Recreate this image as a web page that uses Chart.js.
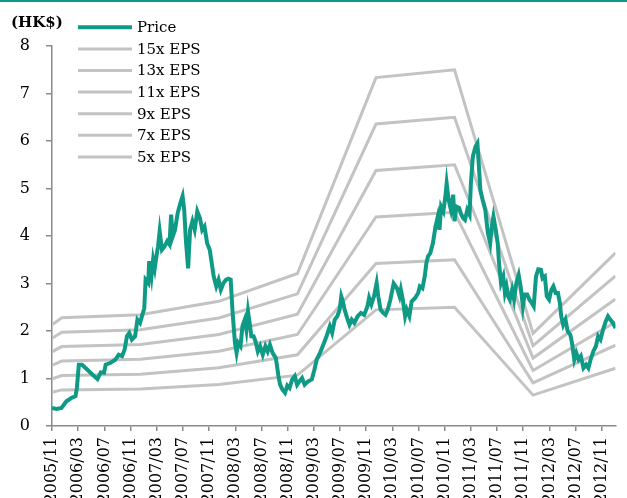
<!DOCTYPE html>
<html>
<head>
<meta charset="utf-8">
<script src="https://cdn.jsdelivr.net/npm/chart.js@4.4.0/dist/chart.umd.min.js"></script>
<style>
  body { margin: 0; background: #fff; overflow: hidden; }
  #wrap { width: 627px; height: 498px; position: relative; }
</style>
</head>
<body>
<div id="wrap"><canvas id="peChart"></canvas></div>
<script>
// months counted from 2005/11 (0 = 2005/11)
const xTickLabels = [
    "2005/11", "2006/03", "2006/07", "2006/11", "2007/03", "2007/07", "2007/11",
    "2008/03", "2008/07", "2008/11", "2009/03", "2009/07", "2009/11", "2010/03",
    "2010/07", "2010/11", "2011/03", "2011/07", "2011/11", "2012/03", "2012/07", "2012/11"
];

const priceMonths = [
    0, 0.7, 1.45, 2.2, 2.95, 3.6, 3.8, 4.1, 4.6, 5.45, 6.2, 6.95, 7.45, 7.95, 8.2, 8.95,
    9.7, 10.2, 10.7, 11.1, 11.45, 11.8, 12.2, 12.7, 13.05, 13.45, 13.8, 14.1, 14.3, 14.7,
    14.85, 15.2, 15.45, 15.7, 15.95, 16.2, 16.45, 16.8, 17.2, 17.6, 17.95, 18.2, 18.45,
    18.8, 19.2, 19.6, 19.95, 20.2, 20.45, 20.8, 21.1, 21.45, 21.8, 22.2, 22.6, 22.95,
    23.3, 23.7, 24.1, 24.3, 24.7, 25.1, 25.45, 25.8, 26.2, 26.6, 26.95, 27.3, 27.6,
    27.95, 28.2, 28.45, 28.8, 29.1, 29.45, 29.7, 29.95, 30.2, 30.45, 30.8, 31.1, 31.45,
    31.8, 32.2, 32.6, 32.95, 33.3, 33.7, 34.2, 34.6, 34.85, 35.2, 35.6, 35.95, 36.3,
    36.7, 37.1, 37.45, 37.8, 38.2, 38.6, 39.1, 39.7, 40.1, 40.45, 40.95, 41.45, 41.95,
    42.45, 42.8, 43.2, 43.6, 43.95, 44.2, 44.45, 44.7, 45.1, 45.45, 45.8, 46.2, 46.7,
    47.2, 47.7, 48.2, 48.45, 48.8, 49.2, 49.6, 49.85, 50.2, 50.6, 50.95, 51.3, 51.7,
    52.2, 52.7, 53.1, 53.3, 53.6, 53.95, 54.2, 54.6, 54.95, 55.45, 55.95, 56.2, 56.6,
    56.95, 57.2, 57.45, 57.8, 58.2, 58.6, 58.95, 59.2, 59.45, 59.8, 60.1, 60.3, 60.6,
    60.95, 61.3, 61.5, 61.8, 62.2, 62.45, 62.8, 63.1, 63.45, 63.8, 64.0, 64.3, 64.7,
    65.0, 65.2, 65.45, 65.8, 66.2, 66.6, 66.95, 67.2, 67.45, 67.8, 68.1, 68.3, 68.6,
    68.95, 69.2, 69.45, 69.7, 69.95, 70.3, 70.6, 70.95, 71.3, 71.6, 71.95, 72.2, 72.6,
    72.95, 73.3, 73.6, 73.95, 74.3, 74.7, 74.95, 75.3, 75.6, 75.95, 76.3, 76.6, 76.95,
    77.3, 77.6, 77.8, 78.1, 78.45, 78.8, 79.2, 79.45, 79.8, 80.1, 80.45, 80.8, 81.2,
    81.6, 81.95, 82.3, 82.7, 83.1, 83.45, 83.8, 84.2, 84.6, 84.95, 85.3, 85.7, 86.1
];
const priceValues = [
    0.38, 0.36, 0.38, 0.52, 0.59, 0.63, 0.80, 1.29, 1.29, 1.18, 1.08, 0.99, 1.13, 1.12, 1.29, 1.33,
    1.40, 1.50, 1.47, 1.61, 1.89, 1.96, 1.82, 1.89, 2.24, 2.17, 2.34, 2.48, 3.08, 3.01,
    3.47, 3.15, 3.50, 3.32, 3.57, 3.78, 4.10, 3.71, 3.78, 3.89, 3.82, 4.45, 3.99,
    4.13, 4.48, 4.69, 4.84, 4.55, 3.92, 3.32, 4.13, 4.31, 4.13, 4.52, 4.38, 4.13,
    4.20, 3.85, 3.71, 3.53, 3.15, 2.94, 3.08, 2.87, 3.01, 3.08, 3.10, 3.08, 2.38,
    1.75, 1.54, 1.75, 1.68, 2.10, 2.24, 2.03, 2.41, 2.17, 1.89, 1.89, 1.78, 1.57,
    1.68, 1.50, 1.68, 1.57, 1.71, 1.54, 1.43, 1.05, 0.87, 0.77, 0.70, 0.85, 0.80,
    0.98, 1.05, 0.87, 0.94, 1.01, 0.87, 0.94, 0.98, 1.19, 1.40, 1.54, 1.71, 1.89,
    2.10, 1.96, 2.24, 2.31, 2.45, 2.73, 2.62, 2.45, 2.27, 2.13, 2.24, 2.17, 2.31,
    2.38, 2.34, 2.52, 2.70, 2.56, 2.73, 3.01, 2.73, 2.45, 2.38, 2.34, 2.45, 2.66,
    3.00, 2.90, 2.73, 2.87, 2.66, 2.31, 2.45, 2.31, 2.62, 2.69, 2.80, 2.94, 2.90,
    3.15, 3.43, 3.57, 3.64, 3.85, 4.20, 4.41, 4.13, 4.62, 4.52, 4.83, 5.11, 4.76,
    4.55, 4.87, 4.31, 4.62, 4.59, 4.48, 4.38, 4.34, 4.55, 4.45, 5.11, 5.67, 5.88,
    5.95, 5.53, 4.97, 4.76, 4.55, 4.06, 3.85, 4.20, 4.41, 4.13, 3.85, 3.43, 3.01,
    3.15, 2.80, 2.94, 2.73, 2.66, 2.87, 2.66, 3.01, 3.18, 2.94, 2.52, 2.77, 2.77,
    2.66, 2.59, 2.52, 3.15, 3.30, 3.29, 3.11, 3.15, 2.73, 2.66, 2.87, 2.94, 2.80,
    2.80, 2.59, 2.31, 2.13, 2.24, 1.99, 1.92, 1.75, 1.40, 1.54, 1.40, 1.47, 1.22,
    1.29, 1.22, 1.40, 1.57, 1.68, 1.89, 1.82, 2.03, 2.20, 2.31, 2.24, 2.17, 2.06
];

// EPS used for the PE bands
const epsMonths = [0, 1.5, 13.5, 25.5, 37.5, 49.5, 61.5, 73.5, 86.1];
const epsValues = [0.142, 0.152, 0.156, 0.175, 0.214, 0.489, 0.500, 0.130, 0.243];
const multiples = [15, 13, 11, 9, 7, 5];

const teal = "#0f9a86";
const grey = "#c3c3c3";
const axisGrey = "#8a8a8a";

const datasets = [
    {
        label: "Price",
        data: priceMonths.map((m, i) => ({ x: m, y: priceValues[i] })),
        borderColor: teal,
        backgroundColor: teal,
        borderWidth: 4,
        pointRadius: 0,
        tension: 0,
    },
];
multiples.forEach((k) => {
    datasets.push({
        label: k + "x EPS",
        data: epsMonths.map((m, i) => ({ x: m, y: epsValues[i] * k })),
        borderColor: grey,
        backgroundColor: grey,
        borderWidth: 3,
        pointRadius: 0,
        tension: 0,
    });
});

// legend + unit label + top rule, drawn by hand
const extras = {
    id: "extras",
    afterDraw(chart) {
        const ctx = chart.ctx;
        ctx.save();
        ctx.fillStyle = teal;
        ctx.fillRect(0, 0, chart.width, 2);

        ctx.fillStyle = "#000";
        ctx.font = "bold 15px 'DejaVu Serif'";
        ctx.textBaseline = "middle";
        ctx.textAlign = "left";
        ctx.fillText("(HK$)", 11, 23);

        ctx.font = "15px 'DejaVu Serif'";
        chart.data.datasets.forEach((ds, i) => {
            const y = 27.3 + i * 21.6;
            ctx.strokeStyle = ds.borderColor;
            ctx.lineWidth = ds.borderWidth;
            ctx.beginPath();
            ctx.moveTo(78, y);
            ctx.lineTo(132, y);
            ctx.stroke();
            ctx.fillStyle = "#000";
            ctx.fillText(ds.label, 137, y + 1);
        });
        ctx.restore();
    },
};

const config = {
    type: "line",
    data: { datasets: datasets },
    options: {
        responsive: true,
        maintainAspectRatio: false,
        animation: false,
        layout: { padding: { top: 46, right: 1, left: 0, bottom: 0 } },
        scales: {
            x: {
                type: "linear",
                min: 0,
                max: 86.1,
                afterFit: (scale) => { scale.height = 72; },
                border: { color: axisGrey, width: 1.5 },
                grid: { drawOnChartArea: false, drawTicks: true, tickLength: 5, color: axisGrey, lineWidth: 1.5 },
                ticks: {
                    stepSize: 4,
                    includeBounds: false,
                    autoSkip: false,
                    minRotation: 90,
                    maxRotation: 90,
                    padding: 6,
                    color: "#000",
                    font: { family: "'DejaVu Serif'", size: 16 },
                    callback: (value) => xTickLabels[value / 4],
                },
            },
            y: {
                min: 0,
                max: 8,
                afterFit: (scale) => { scale.width = 52; },
                border: { color: axisGrey, width: 1.5 },
                grid: { drawOnChartArea: false, drawTicks: true, tickLength: 6, color: axisGrey, lineWidth: 1.5 },
                ticks: {
                    stepSize: 1,
                    padding: 16,
                    color: "#000",
                    font: { family: "'DejaVu Serif'", size: 16 },
                },
            },
        },
        plugins: {
            legend: { display: false },
            tooltip: { enabled: false },
        },
    },
    plugins: [extras],
};

const peChart = new Chart(document.getElementById("peChart").getContext("2d"), config);
</script>
</body>
</html>
